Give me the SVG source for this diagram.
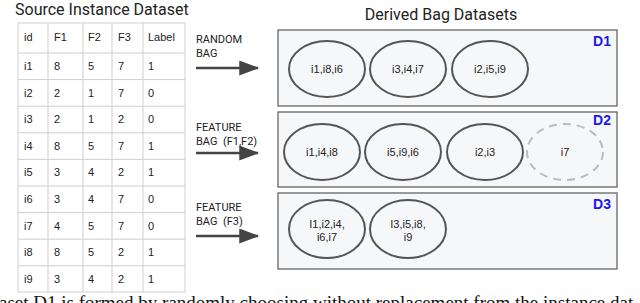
<svg xmlns="http://www.w3.org/2000/svg" width="640" height="303" viewBox="0 0 640 303">
<style>
.title{font-family:Roboto,"Liberation Sans",sans-serif;font-size:16px;fill:#222}
.cell{font-family:"Liberation Sans",Arial,sans-serif;font-size:11px;fill:#222}
.grid{stroke:#cfcfcf;stroke-width:1;fill:none}
.lbl{font-family:Roboto,"Liberation Sans",sans-serif;font-size:11px;fill:#222;white-space:pre}
.box{fill:#f6f7f9;stroke:#666;stroke-width:1.3}
.bag{fill:none;stroke:#555;stroke-width:2}
.bagd{fill:none;stroke:#bbb;stroke-width:2;stroke-dasharray:8,6}
.bt{font-family:"Liberation Sans",Arial,sans-serif;font-size:11px;fill:#222;text-anchor:middle}
.dl{font-family:"Liberation Sans",Arial,sans-serif;font-size:14px;font-weight:bold;fill:#1a1aee;text-anchor:end}
.arr{stroke:#444;stroke-width:2.5;fill:none}
.cap{font-family:"Liberation Serif","Times New Roman",serif;font-size:19px;fill:#111}
</style>
<defs>
<marker id="ah" markerWidth="8" markerHeight="6" refX="7.5" refY="3" orient="auto" markerUnits="strokeWidth">
<path d="M0,0 L8,3 L0,6 Z" fill="#444"/>
</marker>
</defs>
<text class="title" x="15" y="15">Source Instance Dataset</text>
<g id="table">
<rect class="grid" x="18" y="23" width="167" height="269"/>
<g class="grid">
<line x1="48" y1="23" x2="48" y2="292"/>
<line x1="83" y1="23" x2="83" y2="292"/>
<line x1="112" y1="23" x2="112" y2="292"/>
<line x1="143" y1="23" x2="143" y2="292"/>
<line x1="18" y1="53" x2="185" y2="53"/>
<line x1="18" y1="79.6" x2="185" y2="79.6"/>
<line x1="18" y1="106.2" x2="185" y2="106.2"/>
<line x1="18" y1="132.8" x2="185" y2="132.8"/>
<line x1="18" y1="159.4" x2="185" y2="159.4"/>
<line x1="18" y1="186" x2="185" y2="186"/>
<line x1="18" y1="212.6" x2="185" y2="212.6"/>
<line x1="18" y1="239.2" x2="185" y2="239.2"/>
<line x1="18" y1="265.8" x2="185" y2="265.8"/>
</g>
<g class="cell">
<text x="24" y="41">id</text><text x="54" y="41">F1</text><text x="88" y="41">F2</text><text x="118" y="41">F3</text><text x="148" y="41">Label</text>
<text x="24" y="70">i1</text><text x="54" y="70">8</text><text x="88" y="70">5</text><text x="118" y="70">7</text><text x="148" y="70">1</text>
<text x="24" y="96.6">i2</text><text x="54" y="96.6">2</text><text x="88" y="96.6">1</text><text x="118" y="96.6">7</text><text x="148" y="96.6">0</text>
<text x="24" y="123.2">i3</text><text x="54" y="123.2">2</text><text x="88" y="123.2">1</text><text x="118" y="123.2">2</text><text x="148" y="123.2">0</text>
<text x="24" y="149.8">i4</text><text x="54" y="149.8">8</text><text x="88" y="149.8">5</text><text x="118" y="149.8">7</text><text x="148" y="149.8">1</text>
<text x="24" y="176.4">i5</text><text x="54" y="176.4">3</text><text x="88" y="176.4">4</text><text x="118" y="176.4">2</text><text x="148" y="176.4">1</text>
<text x="24" y="203">i6</text><text x="54" y="203">3</text><text x="88" y="203">4</text><text x="118" y="203">7</text><text x="148" y="203">0</text>
<text x="24" y="229.6">i7</text><text x="54" y="229.6">4</text><text x="88" y="229.6">5</text><text x="118" y="229.6">7</text><text x="148" y="229.6">0</text>
<text x="24" y="256.2">i8</text><text x="54" y="256.2">8</text><text x="88" y="256.2">5</text><text x="118" y="256.2">2</text><text x="148" y="256.2">1</text>
<text x="24" y="282.8">i9</text><text x="54" y="282.8">3</text><text x="88" y="282.8">4</text><text x="118" y="282.8">2</text><text x="148" y="282.8">1</text>
</g>
</g>
<text class="title" x="441" y="20" text-anchor="middle">Derived Bag Datasets</text>
<g id="connectors">
<line class="arr" x1="196" y1="68" x2="258" y2="68" marker-end="url(#ah)"/>
<line class="arr" x1="196" y1="153" x2="258" y2="153" marker-end="url(#ah)"/>
<line class="arr" x1="196" y1="236" x2="258" y2="236" marker-end="url(#ah)"/>
<text class="lbl" x="196" y="43">RANDOM</text>
<text class="lbl" x="196" y="57">BAG</text>
<text class="lbl" x="196" y="131">FEATURE</text>
<text class="lbl" x="196" y="145" xml:space="preserve">BAG  (F1,F2)</text>
<text class="lbl" x="196" y="211">FEATURE</text>
<text class="lbl" x="196" y="225" xml:space="preserve">BAG  (F3)</text>
</g>
<g id="D1">
<rect class="box" x="278" y="30" width="339" height="76"/>
<text class="dl" x="611" y="46">D1</text>
<ellipse class="bag" cx="327" cy="69" rx="38" ry="28"/><text class="bt" x="327" y="73">i1,i8,i6</text>
<ellipse class="bag" cx="408" cy="69" rx="38" ry="28"/><text class="bt" x="408" y="73">i3,i4,i7</text>
<ellipse class="bag" cx="490" cy="69" rx="38" ry="28"/><text class="bt" x="490" y="73">i2,i5,i9</text>
</g>
<g id="D2">
<rect class="box" x="278" y="112" width="339" height="75"/>
<text class="dl" x="611" y="125">D2</text>
<ellipse class="bag" cx="322" cy="152" rx="38" ry="28"/><text class="bt" x="322" y="156">i1,i4,i8</text>
<ellipse class="bag" cx="403" cy="152" rx="38" ry="28"/><text class="bt" x="403" y="156">i5,i9,i6</text>
<ellipse class="bag" cx="485" cy="152" rx="38" ry="28"/><text class="bt" x="485" y="156">i2,i3</text>
<ellipse class="bagd" cx="565" cy="152" rx="38" ry="28"/><text class="bt" x="565" y="156">i7</text>
</g>
<g id="D3">
<rect class="box" x="278" y="193" width="339" height="76"/>
<text class="dl" x="611" y="209">D3</text>
<ellipse class="bag" cx="327" cy="229" rx="38" ry="29"/><text class="bt" x="327" y="228">I1,i2,i4,</text><text class="bt" x="327" y="241">i6,i7</text>
<ellipse class="bag" cx="408" cy="229" rx="38" ry="29"/><text class="bt" x="408" y="228">I3,i5,i8,</text><text class="bt" x="408" y="241">i9</text>
</g>
<text class="cap" x="-1" y="309">aset D1 is formed by randomly choosing without replacement from the instance dat</text>
</svg>
